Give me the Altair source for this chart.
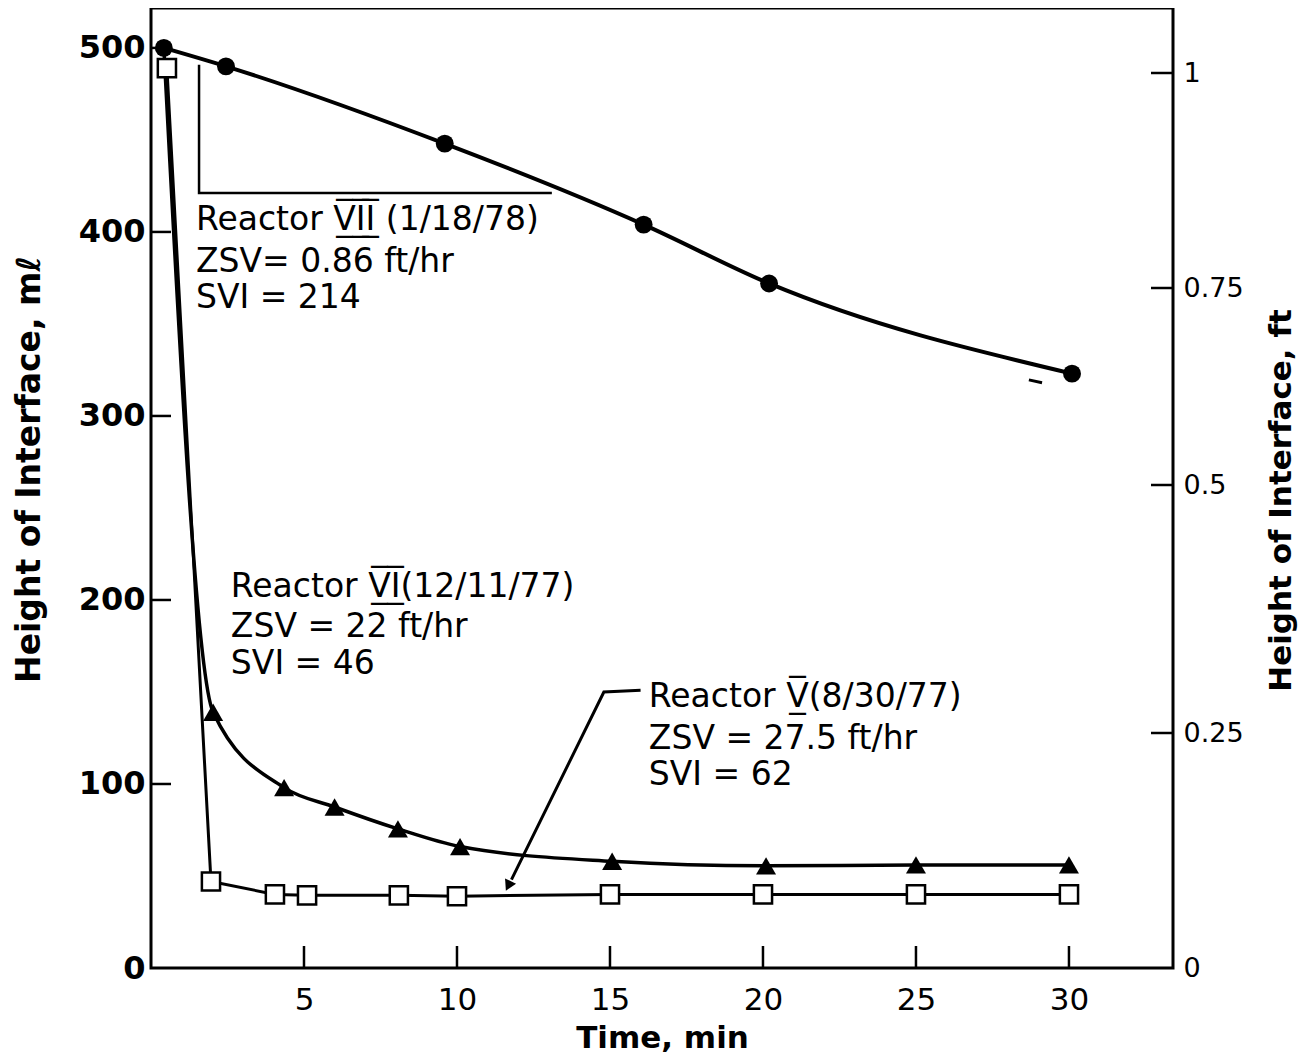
import altair as alt
import pandas as pd

# ---- data ----
# Reactor VII (filled circles)
vii_t = [0.42, 2.45, 9.6, 16.1, 20.2, 30.1]
vii_h = [500, 490, 448, 404, 372, 323]

# Reactor VI (filled triangles); first point is the curve start (no marker)
vi_t = [0.42, 2.03, 4.35, 6.0, 8.07, 10.1, 15.07, 20.1, 25.0, 30.0]
vi_h = [500, 139, 98, 87.5, 75.6, 66, 58, 55.5, 56, 56]
vi_marker = [False, True, True, True, True, True, True, True, True, True]

# Reactor V (open squares)
v_t = [0.52, 1.96, 4.05, 5.1, 8.1, 10.0, 15.0, 20.0, 25.0, 30.0]
v_h = [489, 47, 40, 39.5, 39.5, 39, 40, 40, 40, 40]

# slope guide under reactor VII curve
guide_t = [1.57, 1.57, 13.1]
guide_h = [490.8, 421.2, 421.2]

# arrow pointing at reactor V curve
arrow_t = [16.0, 14.8, 11.78]
arrow_h = [151, 150, 48]
arrowhead_t = [11.7]
arrowhead_h = [45.5]

# small stray dash
dash_t = [28.69, 29.12]
dash_h = [319.6, 318.0]

# annotation text
ann_t = [1.47, 1.47, 1.47, 2.61, 2.61, 2.61, 16.27, 16.27, 16.27]
ann_h = [406.5, 383.7, 364.1, 207.1, 185.3, 165.2, 147.3, 124.5, 104.9]
OV = "\u0332\u0305"
ann_text = [
    "Reactor V" + OV + "I" + OV + "I" + OV + " (1/18/78)",
    "ZSV= 0.86 ft/hr",
    "SVI = 214",
    "Reactor V" + OV + "I" + OV + "(12/11/77)",
    "ZSV = 22 ft/hr",
    "SVI = 46",
    "Reactor V" + OV + "(8/30/77)",
    "ZSV = 27.5 ft/hr",
    "SVI = 62",
]

# axes
x_ticks = [5, 10, 15, 20, 25, 30]
y_ticks = [0, 100, 200, 300, 400, 500]
y_inner_ticks = [100, 200, 300, 400, 500]
ft_ticks = [0, 0.25, 0.5, 0.75, 1]
ft_inner_ticks = [0.25, 0.5, 0.75, 1]
# pixel positions (from top of plot) of ft ticks, as drawn on the original hand-made scale
ft_range = [960, 725, 477, 280, 65]

W, H = 1022, 960
X_MAX = 33.4
Y_MAX = 521.7

FONT = "DejaVu Sans, Verdana, sans-serif"

xscale = alt.Scale(domain=[0, X_MAX], nice=False, zero=False)
yscale = alt.Scale(domain=[0, Y_MAX], nice=False, zero=False)

xaxis = alt.Axis(values=x_ticks, ticks=False, domain=False, grid=False,
                 labelFont=FONT, labelFontSize=31, labelPadding=17, labelColor="black",
                 title="Time, min", titleFont=FONT, titleFontSize=31, titleFontWeight="bold",
                 titlePadding=8, titleColor="black")
yaxis = alt.Axis(values=y_ticks, ticks=False, domain=False, grid=False,
                 labelFont=FONT, labelFontSize=32, labelFontWeight="bold", labelPadding=6,
                 labelColor="black",
                 title="Height of Interface, m\u2113", titleFont=FONT, titleFontSize=33,
                 titleFontWeight="bold", titleAngle=270, titleBaseline="middle",
                 titleX=-122, titleY=461, titleColor="black")

def X():
    return alt.X("t:Q", scale=xscale, axis=xaxis)

def Y():
    return alt.Y("h:Q", scale=yscale, axis=yaxis)

df_vii = pd.DataFrame({"t": vii_t, "h": vii_h})
df_vi = pd.DataFrame({"t": vi_t, "h": vi_h, "m": vi_marker})
df_v = pd.DataFrame({"t": v_t, "h": v_h})
df_guide = pd.DataFrame({"t": guide_t, "h": guide_h, "o": list(range(len(guide_t)))})
df_arrow = pd.DataFrame({"t": arrow_t, "h": arrow_h, "o": list(range(len(arrow_t)))})
df_head = pd.DataFrame({"t": arrowhead_t, "h": arrowhead_h})
df_dash = pd.DataFrame({"t": dash_t, "h": dash_h})
df_ann = pd.DataFrame({"t": ann_t, "h": ann_h, "label": ann_text})
df_yt = pd.DataFrame({"h": y_inner_ticks})
df_xt = pd.DataFrame({"t": x_ticks})
df_ft = pd.DataFrame({"ft": ft_inner_ticks})

line_vii = alt.Chart(df_vii).mark_line(color="black", strokeWidth=4, interpolate="monotone").encode(x=X(), y=Y())
line_vi = alt.Chart(df_vi).mark_line(color="black", strokeWidth=3.5, interpolate="monotone").encode(x=X(), y=Y())
line_v = alt.Chart(df_v).mark_line(color="black", strokeWidth=3).encode(x=X(), y=Y())
guide = alt.Chart(df_guide).mark_line(color="black", strokeWidth=2.5).encode(x=X(), y=Y(), order="o:Q")
arrow = alt.Chart(df_arrow).mark_line(color="black", strokeWidth=3).encode(x=X(), y=Y(), order="o:Q")
head = alt.Chart(df_head).mark_point(shape="triangle", angle=206, size=150, filled=True,
                                     color="black", opacity=1).encode(x=X(), y=Y())
dash = alt.Chart(df_dash).mark_line(color="black", strokeWidth=3).encode(x=X(), y=Y())

pts_vii = alt.Chart(df_vii).mark_point(shape="circle", size=320, filled=True, color="black",
                                       opacity=1).encode(x=X(), y=Y())
pts_vi = alt.Chart(df_vi).transform_filter("datum.m").mark_point(
    shape="triangle-up", size=400, filled=True, color="black", opacity=1).encode(x=X(), y=Y())
pts_v = alt.Chart(df_v).mark_point(shape="square", size=330, filled=True, fill="white",
                                   stroke="black", strokeWidth=2.5, opacity=1).encode(x=X(), y=Y())

texts = alt.Chart(df_ann).mark_text(align="left", baseline="middle", font=FONT, fontSize=33,
                                    color="black").encode(x=X(), y=Y(), text="label:N")

yt = alt.Chart(df_yt).mark_rule(color="black", strokeWidth=2.5).encode(
    y=Y(), x=alt.value(0), x2=alt.value(20))
xt = alt.Chart(df_xt).mark_rule(color="black", strokeWidth=2.5).encode(
    x=X(), y=alt.value(H - 22), y2=alt.value(H))

main = alt.layer(line_vii, line_vi, line_v, guide, arrow, dash, head,
                 pts_vii, pts_vi, pts_v, texts, yt, xt)

ft_axis = alt.Axis(values=ft_ticks, labelExpr="'' + datum.value", orient="right", ticks=False,
                   domain=False, grid=False, labelFont=FONT, labelFontSize=27, labelPadding=10,
                   labelColor="black",
                   title="Height of Interface, ft", titleFont=FONT, titleFontSize=31,
                   titleFontWeight="bold", titleAngle=270, titleBaseline="middle",
                   titleX=108, titleY=492, titleColor="black")
right = alt.Chart(df_ft).mark_rule(color="black", strokeWidth=2.5).encode(
    y=alt.Y("ft:Q", scale=alt.Scale(domain=ft_ticks, range=ft_range, zero=False, nice=False),
            axis=ft_axis),
    x=alt.value(W - 22), x2=alt.value(W))

chart = alt.layer(main, right).resolve_scale(y="independent").properties(
    width=W, height=H, padding={"left": 5, "top": 0, "right": 5, "bottom": 3}
).configure(background="white").configure_view(stroke="black", strokeWidth=3)

chart.save("out.html", embed_options={"renderer": "svg", "actions": False})
